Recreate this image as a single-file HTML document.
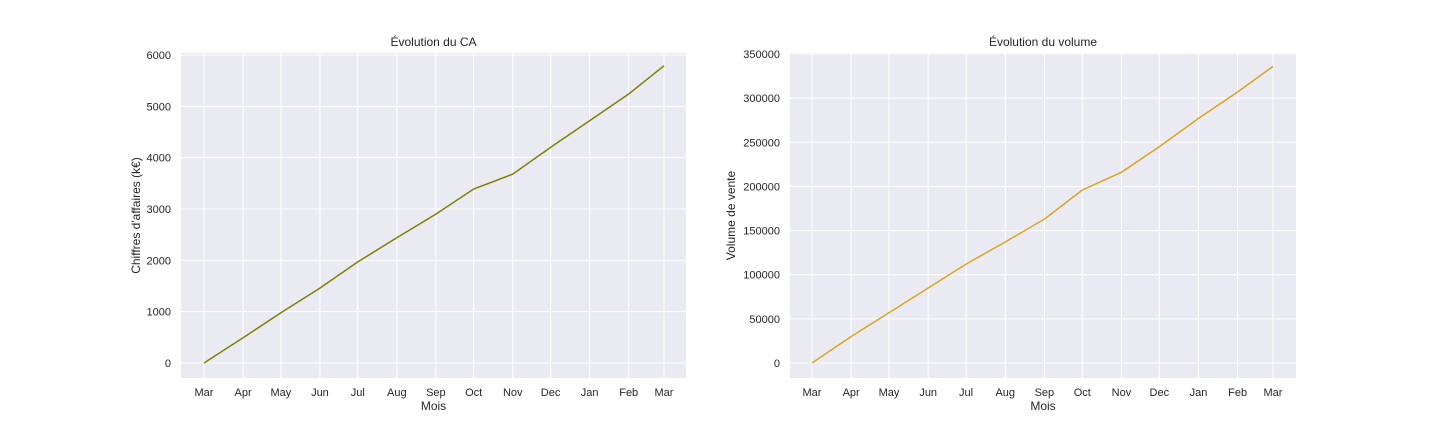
<!DOCTYPE html>
<html><head><meta charset="utf-8"><style>
body{margin:0;background:#fff;}
svg text{font-family:"Liberation Sans",sans-serif;fill:#262626;}
</style></head><body>
<svg id="c" width="1440" height="432" xmlns="http://www.w3.org/2000/svg"></svg>
<script>
const monthLabels=["Mar","Apr","May","Jun","Jul","Aug","Sep","Oct","Nov","Dec","Jan","Feb","Mar"];
const monthDays=[0,31,61,92,122,153,184,214,245,275,306,337,365];
const caValues=[0,490,980,1460,1970,2440,2900,3390,3680,4200,4720,5240,5790];
const volValues=[0,30000,57000,85000,112000,137000,163000,196000,216000,245000,277000,307000,336000];
const caTicks=[0,1000,2000,3000,4000,5000,6000];
const volTicks=[0,50000,100000,150000,200000,250000,300000,350000];
const NS="http://www.w3.org/2000/svg";
const svg=document.getElementById('c');
function mk(t,a,p){const e=document.createElementNS(NS,t);for(const k in a)e.setAttribute(k,a[k]);(p||svg).appendChild(e);return e;}
function panel(cfg){
  const g=mk('g',{});
  
  
  const L=cfg.x0,R=cfg.x1,T=53,B=378;
  const bg=mk('rect',{x:L,y:T,width:R-L,height:B-T,fill:'#eaeaf2'},g);
  
  const xs=d=>cfg.px0+(d/365)*(cfg.px1-cfg.px0);
  const ys=v=>363-(v/cfg.ymax)*(363-cfg.ytop);
  monthDays.forEach((d,i)=>{
    const ln=mk('line',{x1:xs(d),x2:xs(d),y1:T,y2:B,stroke:'#fff','stroke-width':1},g);
    
    const t=mk('text',{x:xs(d),y:396,'font-size':11,'text-anchor':'middle'},g);t.textContent=monthLabels[i];
    
  });
  cfg.ticks.forEach(v=>{
    const ln=mk('line',{x1:L,x2:R,y1:ys(v),y2:ys(v),stroke:'#fff','stroke-width':1},g);
    
    const t=mk('text',{x:L-10,y:ys(v)+4,'font-size':11,'text-anchor':'end'},g);t.textContent=v;
    
  });
  const pts=cfg.vals.map((v,i)=>xs(monthDays[i]).toFixed(1)+','+ys(v).toFixed(1)).join(' ');
  const pl=mk('polyline',{points:pts,fill:'none',stroke:cfg.color,'stroke-width':1.5},g);
  
  const tt=mk('text',{x:(L+R)/2,y:46,'font-size':12,'text-anchor':'middle'},g);tt.textContent=cfg.title;
  
  const xl=mk('text',{x:(L+R)/2,y:410,'font-size':12,'text-anchor':'middle'},g);xl.textContent='Mois';
  
  const yl=mk('text',{x:0,y:0,'font-size':12,'text-anchor':'middle',transform:`translate(${cfg.ylx},${(T+B)/2}) rotate(-90)`},g);yl.textContent=cfg.ylabel;
  
}
panel({name:'ca-chart',x0:181,x1:686,px0:204,px1:664,ymax:6000,ytop:55,ticks:caTicks,vals:caValues,color:'#808000',title:'Évolution du CA',ylabel:"Chiffres d'affaires (k€)",ylx:140,lineName:'ca-line'});
panel({name:'volume-chart',x0:790,x1:1296,px0:812,px1:1273,ymax:350000,ytop:54,ticks:volTicks,vals:volValues,color:'#daa520',title:'Évolution du volume',ylabel:'Volume de vente',ylx:735,lineName:'volume-line'});
</script>
</body></html>
